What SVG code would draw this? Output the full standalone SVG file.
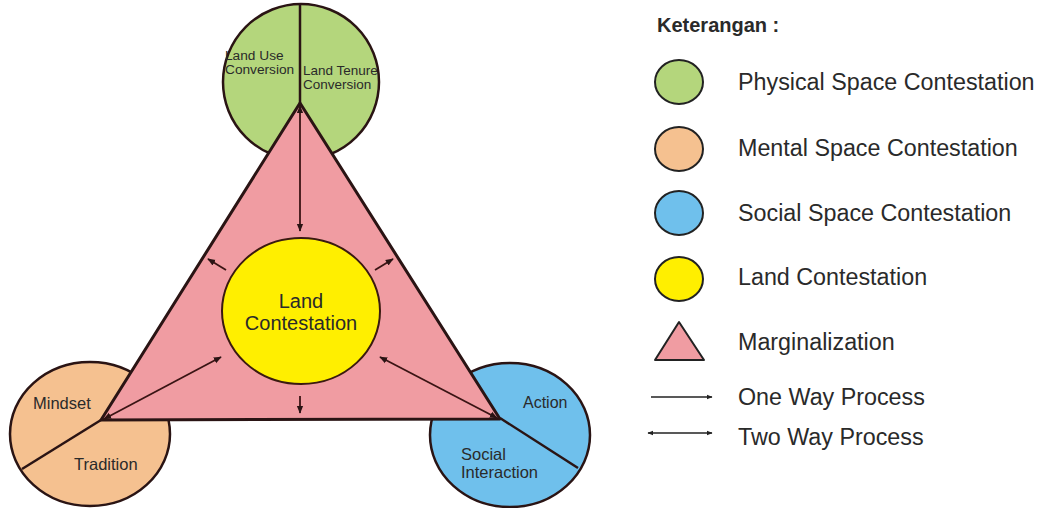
<svg xmlns="http://www.w3.org/2000/svg" width="1050" height="508" viewBox="0 0 1050 508">
<style>
.t{font-family:"Liberation Sans",Arial,sans-serif;fill:#2a2a2a}
.o{stroke:#2a1414;stroke-width:2.5}
.ln{stroke:#3a1414;stroke-width:1.8;fill:none}
</style>
<defs>
<marker id="ah" viewBox="0 0 10 10" refX="9" refY="5" markerWidth="8" markerHeight="8" markerUnits="userSpaceOnUse" orient="auto-start-reverse"><path d="M0,1 L10,5 L0,9 z" fill="#2a1414"/></marker>
<marker id="al" viewBox="0 0 10 10" refX="9" refY="5" markerWidth="6" markerHeight="6" markerUnits="userSpaceOnUse" orient="auto-start-reverse"><path d="M0,1 L10,5 L0,9 z" fill="#222"/></marker>
</defs>
<rect width="1050" height="508" fill="#fff"/>
<g id="physical">
<ellipse cx="301" cy="82" rx="78" ry="78" fill="#b4d67c" class="o"/>
<line x1="300" y1="4" x2="300" y2="103" class="o" stroke-width="2"/>
<text class="t" font-size="13.7"><tspan x="225" y="60">Land Use</tspan><tspan x="225" y="74">Conversion</tspan></text>
<text class="t" font-size="13.5"><tspan x="303" y="75">Land Tenure</tspan><tspan x="303" y="89">Conversion</tspan></text>
</g>
<g id="mental">
<ellipse cx="90" cy="434" rx="80" ry="72" fill="#f5c190" class="o"/>
<line x1="101" y1="420" x2="22" y2="469" class="o" stroke-width="2"/>
<text class="t" x="33" y="409" font-size="16.5">Mindset</text>
<text class="t" x="74" y="470" font-size="16.5">Tradition</text>
</g>
<g id="social">
<ellipse cx="510" cy="435" rx="80" ry="72" fill="#6fc0ec" class="o"/>
<line x1="500" y1="418" x2="578" y2="468" class="o" stroke-width="2"/>
<text class="t" x="523" y="408" font-size="16">Action</text>
<text class="t" font-size="16.5"><tspan x="461" y="460">Social</tspan><tspan x="461" y="478">Interaction</tspan></text>
</g>
<g id="marginalization">
<polygon points="300,103 101,420 500,419" fill="#f09ca2" stroke="#2a1414" stroke-width="3" stroke-linejoin="round"/>
</g>
<g id="land">
<ellipse cx="301" cy="311" rx="79" ry="73" fill="#ffef00" stroke="#3a1a10" stroke-width="2"/>
<text class="t" font-size="20" text-anchor="middle" fill="#3a3020"><tspan x="301" y="308">Land</tspan><tspan x="301" y="330">Contestation</tspan></text>
</g>
<g id="connectors">
<line x1="300" y1="106" x2="300" y2="231" class="ln" marker-start="url(#ah)" marker-end="url(#ah)"/>
<line x1="104" y1="419" x2="221" y2="357" class="ln" marker-start="url(#ah)" marker-end="url(#ah)"/>
<line x1="497" y1="418" x2="380" y2="357" class="ln" marker-start="url(#ah)" marker-end="url(#ah)"/>
<line x1="226" y1="270" x2="208" y2="259" class="ln" marker-end="url(#ah)"/>
<line x1="375" y1="270" x2="393" y2="259" class="ln" marker-end="url(#ah)"/>
<line x1="300" y1="396" x2="300" y2="413" class="ln" marker-end="url(#ah)"/>
</g>
<g id="legend">
<text class="t" x="657" y="32" font-size="20" font-weight="bold">Keterangan :</text>
<ellipse cx="679" cy="82" rx="24" ry="22" fill="#b4d67c" stroke="#222" stroke-width="2"/>
<ellipse cx="679" cy="149" rx="24" ry="22" fill="#f5c190" stroke="#222" stroke-width="2"/>
<ellipse cx="679" cy="213" rx="24" ry="22" fill="#6fc0ec" stroke="#222" stroke-width="2"/>
<ellipse cx="679" cy="279" rx="24" ry="22" fill="#ffef00" stroke="#222" stroke-width="2"/>
<polygon points="679,322 655,360 704,360" fill="#f09ca2" stroke="#222" stroke-width="2" stroke-linejoin="round"/>
<line x1="651" y1="397" x2="712" y2="397" stroke="#222" stroke-width="1.5" marker-end="url(#al)"/>
<line x1="648" y1="433" x2="712" y2="433" stroke="#222" stroke-width="1.5" marker-start="url(#al)" marker-end="url(#al)"/>
<text class="t" x="738" y="90" font-size="23.3">Physical Space Contestation</text>
<text class="t" x="738" y="156" font-size="23.3">Mental Space Contestation</text>
<text class="t" x="738" y="221" font-size="23.3">Social Space Contestation</text>
<text class="t" x="738" y="285" font-size="23.3">Land Contestation</text>
<text class="t" x="738" y="350" font-size="23.3">Marginalization</text>
<text class="t" x="738" y="405" font-size="23.3">One Way Process</text>
<text class="t" x="738" y="445" font-size="23.3">Two Way Process</text>
</g>
</svg>
